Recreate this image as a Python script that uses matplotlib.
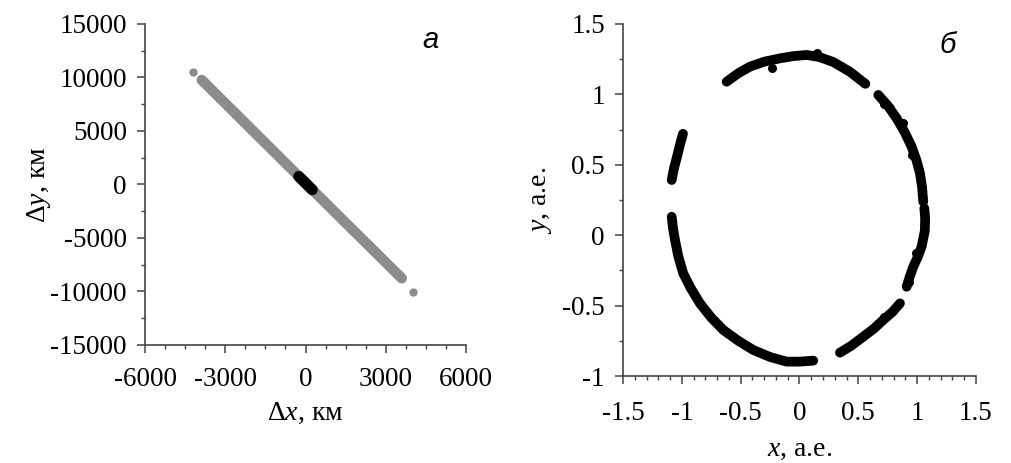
import matplotlib
matplotlib.use("Agg")
import matplotlib.pyplot as plt
from matplotlib.ticker import MultipleLocator, FuncFormatter

plt.rcParams["font.family"] = ["Liberation Serif", "DejaVu Serif"]
plt.rcParams["mathtext.fontset"] = "custom"
plt.rcParams["mathtext.rm"] = "Liberation Serif"
plt.rcParams["mathtext.it"] = "Liberation Serif:italic"
plt.rcParams["axes.unicode_minus"] = False

# panel a: gray band of points along the line, black core near zero
band_x = [-3880, -1500, 0, 1500, 3600]
band_y = [9770, 3860, 140, -3580, -8770]
end_x = [-4200, 4030]
end_y = [10540, -10020]
core_x = [-250, 250]
core_y = [750, -490]

# panel б: arcs of points
arcs = [
    ([-0.619, -0.52, -0.421, -0.30, -0.166, -0.05, 0.061, 0.17, 0.287, 0.43, 0.56],
     [1.090, 1.150, 1.197, 1.232, 1.256, 1.272, 1.280, 1.265, 1.230, 1.160, 1.075]),
    ([0.670, 0.75, 0.826, 0.895, 0.953, 0.995, 1.024, 1.042, 1.052],
     [0.996, 0.920, 0.830, 0.730, 0.629, 0.530, 0.440, 0.340, 0.238]),
    ([1.061, 1.068, 1.065, 1.038, 1.005, 0.967, 0.935, 0.911],
     [0.191, 0.120, 0.030, -0.081, -0.155, -0.224, -0.300, -0.366]),
    ([0.854, 0.79, 0.712, 0.63, 0.542, 0.44, 0.344],
     [-0.484, -0.545, -0.602, -0.665, -0.721, -0.785, -0.834]),
    ([0.117, 0.0, -0.109, -0.25, -0.393, -0.52, -0.648, -0.75, -0.846,
      -0.925, -0.988, -1.030, -1.058, -1.075, -1.086],
     [-0.891, -0.898, -0.898, -0.865, -0.815, -0.750, -0.673, -0.585, -0.484,
      -0.375, -0.271, -0.150, -0.034, 0.050, 0.131]),
    ([-1.086, -1.065, -1.040, -1.015, -0.990],
     [0.392, 0.480, 0.560, 0.645, 0.720]),
]
bump_x = [-0.236, 0.146, 0.72, 0.77, 0.88, 0.96, 0.99, 0.93, 0.72]
bump_y = [1.185, 1.292, 0.93, 0.90, 0.80, 0.57, -0.13, -0.33, -0.58]

fig = plt.figure(figsize=(10.12, 4.63), dpi=100)
axc = "#444444"


def style(ax, xpad):
    for s in ["top", "right"]:
        ax.spines[s].set_visible(False)
    for s in ["left", "bottom"]:
        ax.spines[s].set_color(axc)
        ax.spines[s].set_linewidth(1.2)
    ax.tick_params(which="major", length=6, width=1.1, color=axc,
                   labelsize=19.5, direction="out")
    ax.tick_params(axis="y", which="major", pad=7)
    ax.tick_params(axis="x", which="major", pad=xpad)
    ax.tick_params(which="minor", length=3, width=1.0, color=axc, direction="out")


# panel a
ax1 = fig.add_axes([0.1433, 0.2549, 0.3172, 0.6933])
ax1.plot(band_x, band_y, color="#8c8c8c", lw=7.5, solid_capstyle="round")
ax1.plot(end_x, end_y, "o", color="#8c8c8c", ms=6, mec="none")
ax1.plot(core_x, core_y, color="black", lw=8, solid_capstyle="round")
ax1.set_xlim(-6000, 6000)
ax1.set_ylim(-15000, 15000)
ax1.xaxis.set_major_locator(MultipleLocator(3000))
ax1.xaxis.set_minor_locator(MultipleLocator(750))
ax1.yaxis.set_major_locator(MultipleLocator(5000))
ax1.yaxis.set_minor_locator(MultipleLocator(2500))
style(ax1, 10)
ax1.set_xlabel(r"$\Delta x$, км", fontsize=20, labelpad=6)
ax1.set_ylabel(r"$\Delta y$, км", fontsize=20, labelpad=-2)
ax1.text(0.89, 0.95, "a", transform=ax1.transAxes, fontsize=21,
         family="Liberation Sans", style="italic", ha="center", va="center")

# panel б
ax2 = fig.add_axes([0.6156, 0.1879, 0.3488, 0.7603])
for xs, ys in arcs:
    ax2.plot(xs, ys, color="black", lw=7, solid_capstyle="round",
             solid_joinstyle="round")
ax2.plot(bump_x, bump_y, "o", color="black", ms=6.5, mec="none")
ax2.set_xlim(-1.5, 1.5)
ax2.set_ylim(-1, 1.5)
ax2.xaxis.set_major_locator(MultipleLocator(0.5))
ax2.xaxis.set_minor_locator(MultipleLocator(0.1))
ax2.yaxis.set_major_locator(MultipleLocator(0.5))
ax2.yaxis.set_minor_locator(MultipleLocator(0.25))
fmt = FuncFormatter(lambda v, p: "%g" % round(v, 2))
ax2.xaxis.set_major_formatter(fmt)
ax2.yaxis.set_major_formatter(fmt)
style(ax2, 12)
ax2.set_xlabel(r"$x$, а.е.", fontsize=20, labelpad=8)
ax2.set_ylabel(r"$y$, а.е.", fontsize=20, labelpad=6)
ax2.text(0.92, 0.94, "б", transform=ax2.transAxes, fontsize=21,
         family="Liberation Sans", style="italic", ha="center", va="center")

fig.savefig("out.png", dpi=100)
